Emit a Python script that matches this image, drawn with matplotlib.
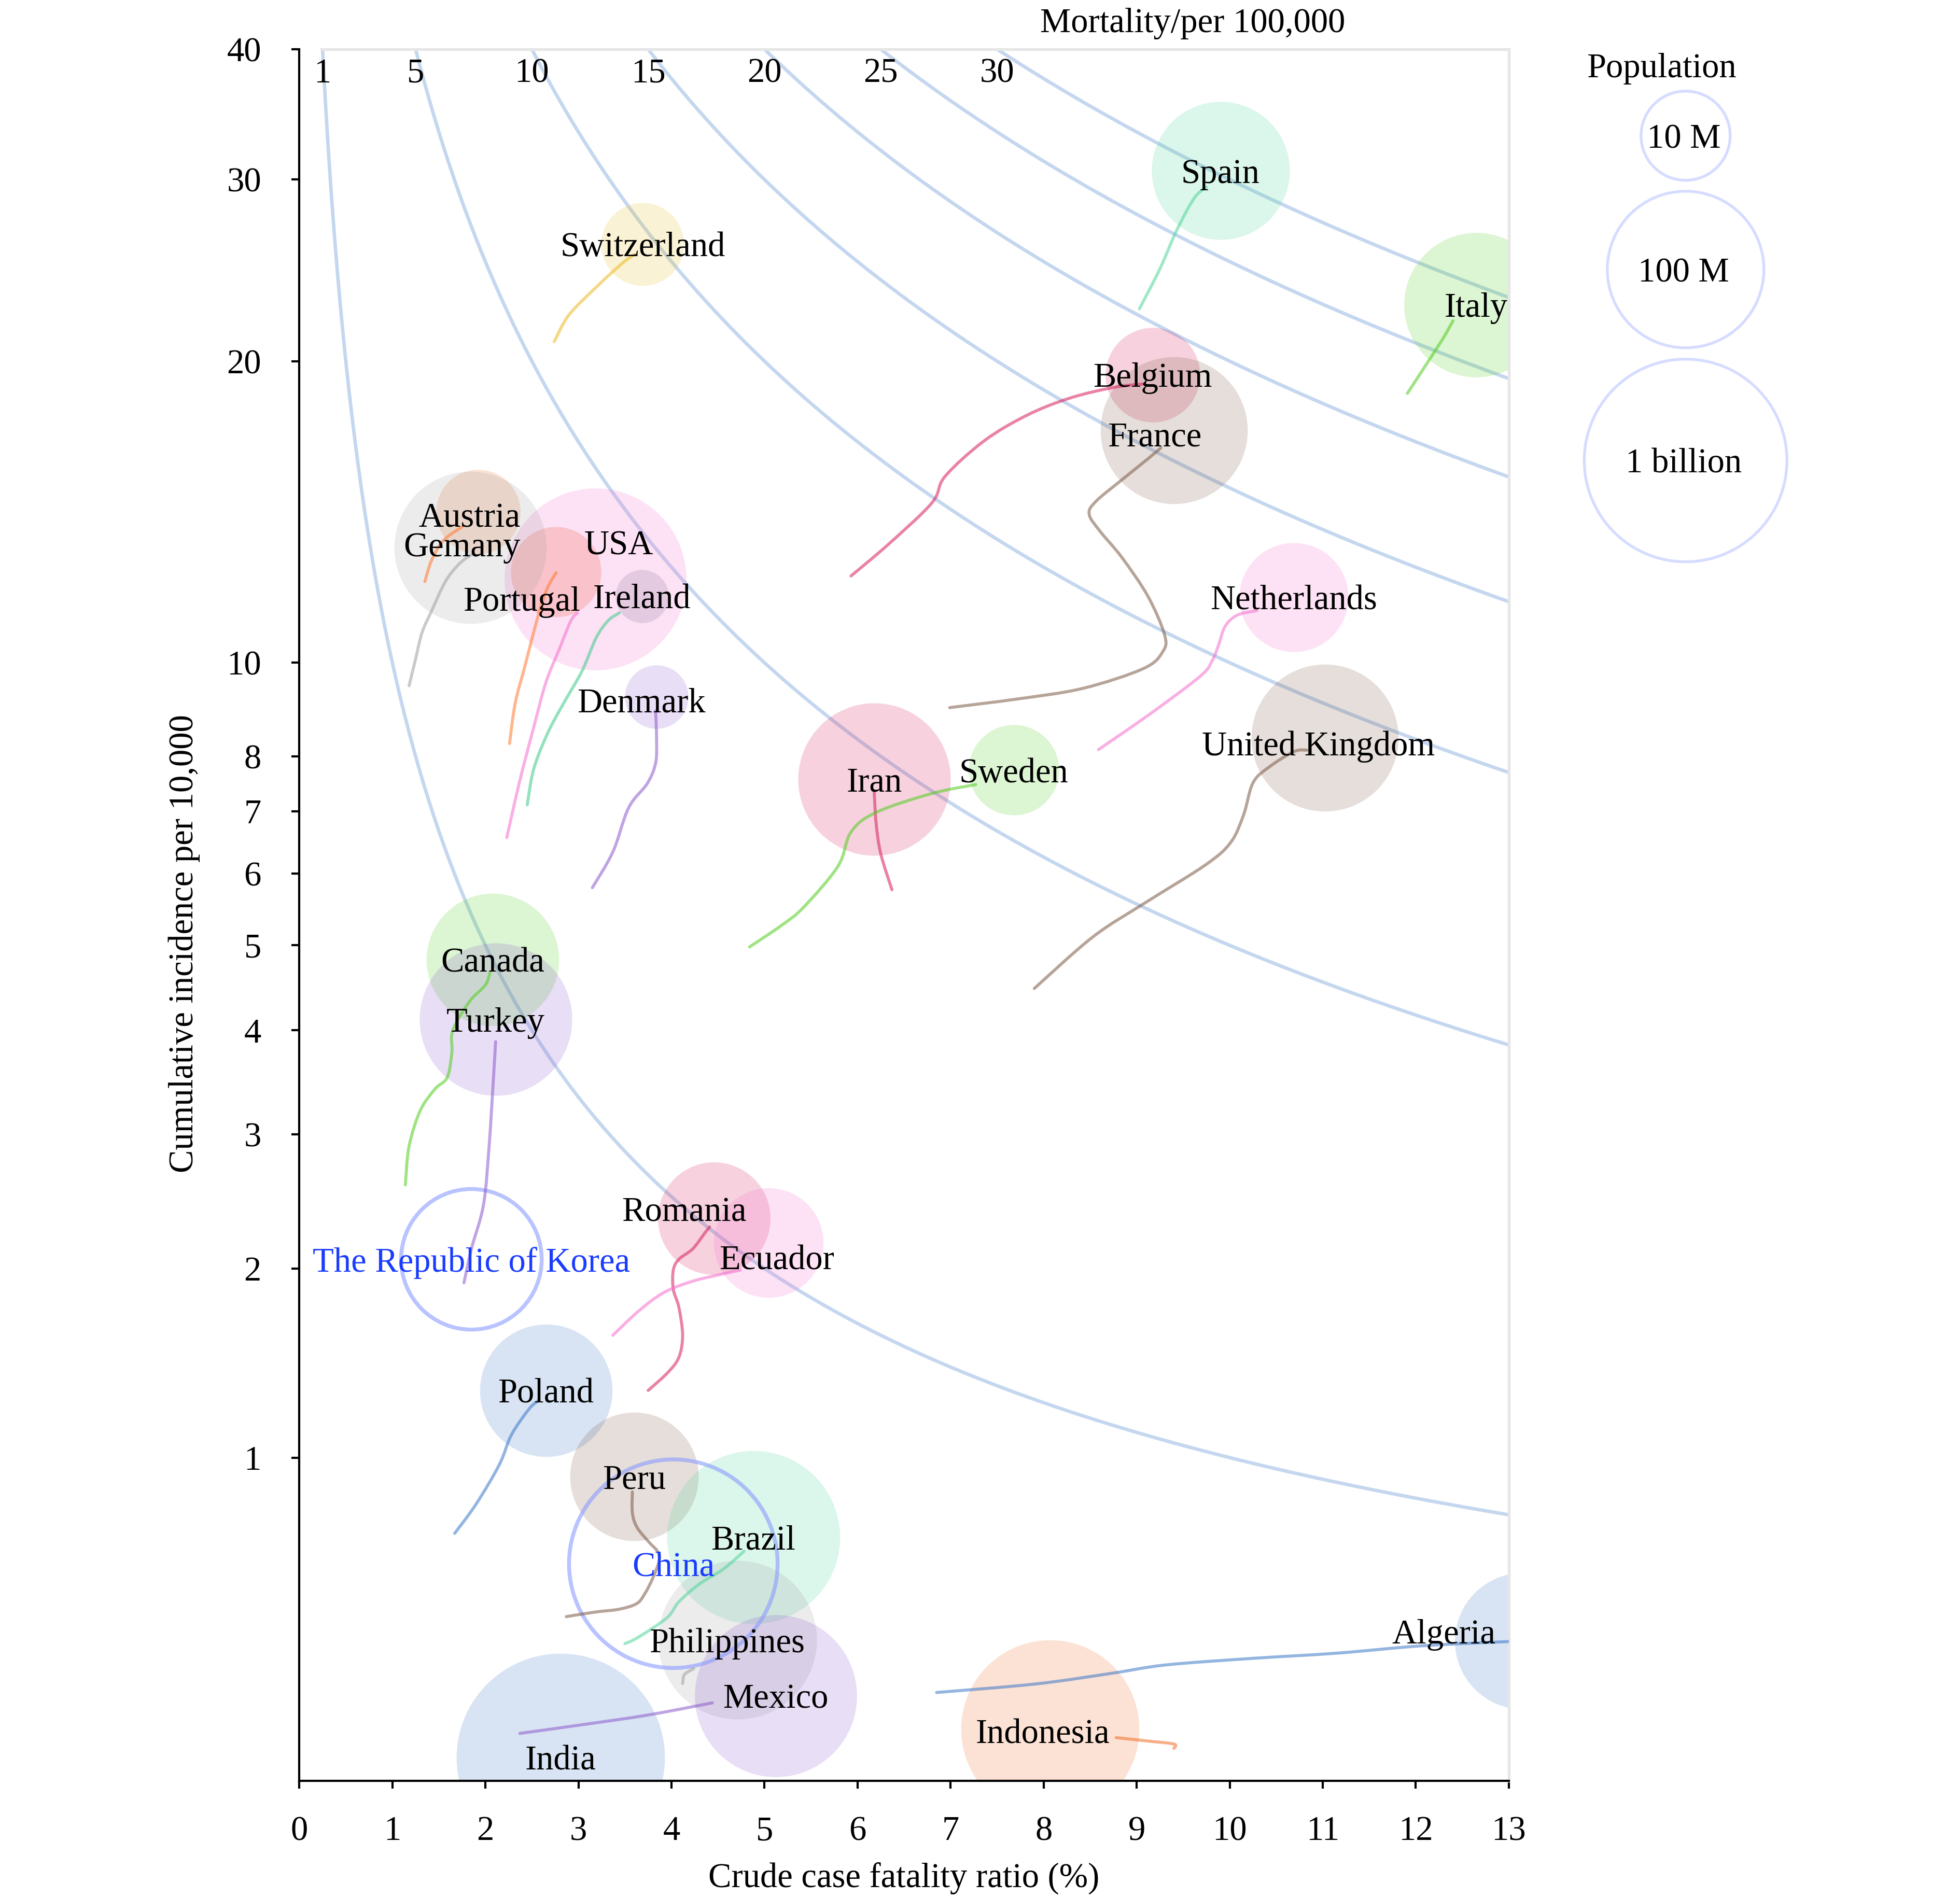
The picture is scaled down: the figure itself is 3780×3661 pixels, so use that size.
import matplotlib.pyplot as plt
import matplotlib.colors as mcolors
from matplotlib.path import Path
from matplotlib.patches import PathPatch
import numpy as np

plt.rcParams['font.family'] = ['Liberation Serif', 'DejaVu Serif']
plt.rcParams['font.size'] = 16

# Current position of each country (bubble)
countries = ["Spain", "Switzerland", "Italy", "Belgium", "France", "Netherlands",
             "United Kingdom", "Iran", "Sweden", "Denmark", "Ireland", "USA",
             "Portugal", "Austria", "Gemany", "Canada", "Turkey",
             "The Republic of Korea", "Romania", "Ecuador", "Poland", "Peru",
             "China", "Brazil", "Philippines", "Mexico", "India", "Indonesia",
             "Algeria"]
population_m = [46.9, 8.6, 60.4, 11.5, 67.0, 17.3, 66.8, 84.0, 10.3, 5.8, 4.9, 330.0,
                10.3, 8.9, 83.0, 38.0, 84.0, 51.7, 19.3, 17.6, 38.0, 32.9,
                1400.0, 212.0, 110.0, 128.0, 1380.0, 273.0, 44.0]
cfr_now = [9.90, 3.69, 12.65, 9.17, 9.40, 10.69, 11.02, 6.18, 7.68, 3.84, 3.68, 3.18,
           2.76, 1.92, 1.84, 2.08, 2.11, 1.85, 4.46, 5.04, 2.65, 3.60,
           4.02, 4.88, 4.71, 5.12, 2.81, 8.07, 13.15]
incidence_now = [30.6, 26.0, 22.7, 19.4, 17.1, 11.66, 8.37, 7.57, 7.74, 9.22, 11.68, 12.16,
                 12.37, 14.2, 13.09, 4.82, 4.12, 2.06, 2.34, 2.17, 1.31, 0.92,
                 0.593, 0.687, 0.353, 0.20, 0.051, 0.118, 0.35]

# Trajectories (crude CFR %, incidence per 10,000)
spain_x = [9.03, 9.25, 9.43, 9.62, 9.75]
spain_y = [22.5, 24.6, 26.8, 28.8, 29.5]
switzerland_x = [2.74, 2.90, 3.21, 3.47, 3.60]
switzerland_y = [20.9, 22.2, 23.7, 24.9, 25.4]
italy_x = [11.91, 12.12, 12.30, 12.40]
italy_y = [18.6, 19.9, 21.1, 21.9]
belgium_x = [5.93, 6.34, 6.80, 6.94, 7.36, 7.82, 8.28, 8.75, 9.07]
belgium_y = [12.25, 13.2, 14.5, 15.4, 16.7, 17.7, 18.4, 18.85, 19.0]
france_x = [6.99, 7.73, 8.42, 9.07, 9.28, 9.30, 9.12, 8.84, 8.61, 8.49, 8.56, 8.84, 9.12, 9.26]
france_y = [8.99, 9.18, 9.41, 9.86, 10.26, 10.68, 11.69, 12.79, 13.57, 14.12, 14.54, 15.28, 16.03, 16.44]
netherlands_x = [8.59, 9.14, 9.68, 9.81, 9.88, 9.95, 10.08, 10.29]
netherlands_y = [8.13, 8.85, 9.68, 10.04, 10.42, 10.89, 11.18, 11.30]
uk_x = [7.90, 8.53, 9.10, 9.74, 10.01, 10.15, 10.25, 10.42, 10.69, 10.83]
uk_y = [4.47, 5.11, 5.58, 6.13, 6.48, 6.94, 7.50, 7.79, 8.09, 8.12]
iran_x = [6.37, 6.25, 6.20, 6.18]
iran_y = [5.76, 6.30, 6.79, 7.32]
sweden_x = [4.84, 5.18, 5.42, 5.79, 5.93, 6.20, 6.80, 7.27]
sweden_y = [4.98, 5.26, 5.51, 6.11, 6.65, 6.98, 7.31, 7.47]
denmark_x = [3.15, 3.37, 3.54, 3.74, 3.83, 3.84, 3.83]
denmark_y = [5.79, 6.33, 7.06, 7.49, 7.87, 8.33, 8.92]
ireland_x = [2.45, 2.52, 2.67, 2.84, 3.04, 3.19, 3.32, 3.44]
ireland_y = [7.11, 7.76, 8.46, 9.08, 9.81, 10.6, 11.04, 11.24]
usa_x = [2.23, 2.37, 2.52, 2.65, 2.79, 2.92, 2.99]
usa_y = [6.56, 7.54, 8.58, 9.54, 10.30, 11.04, 11.24]
portugal_x = [2.26, 2.32, 2.42, 2.52, 2.59, 2.67, 2.76]
portugal_y = [8.25, 9.08, 9.88, 10.75, 11.36, 11.93, 12.34]
austria_x = [1.35, 1.42, 1.55, 1.75]
austria_y = [12.09, 12.69, 13.3, 13.72]
germany_x = [1.18, 1.25, 1.32, 1.42, 1.57, 1.72, 1.85]
germany_y = [9.47, 10.09, 10.74, 11.28, 12.09, 12.6, 12.87]
canada_x = [1.14, 1.18, 1.30, 1.46, 1.59, 1.64, 1.65, 1.83, 2.00, 2.05]
canada_y = [2.59, 2.90, 3.21, 3.41, 3.52, 3.77, 4.00, 4.32, 4.51, 4.66]
turkey_x = [1.77, 1.85, 1.98, 2.04, 2.08, 2.11]
turkey_y = [1.91, 2.13, 2.44, 2.90, 3.41, 3.88]
romania_x = [3.75, 3.96, 4.08, 4.12, 4.08, 4.02, 4.02, 4.08, 4.23, 4.35, 4.41]
romania_y = [1.31, 1.40, 1.48, 1.60, 1.76, 1.87, 1.99, 2.06, 2.13, 2.23, 2.28]
ecuador_x = [3.37, 3.65, 3.92, 4.23, 4.55, 4.74]
ecuador_y = [1.60, 1.74, 1.85, 1.92, 1.965, 1.99]
poland_x = [1.67, 1.90, 2.15, 2.28, 2.47, 2.57]
poland_y = [0.70, 0.81, 0.97, 1.10, 1.22, 1.26]
peru_x = [2.87, 3.18, 3.44, 3.63, 3.72, 3.80, 3.87, 3.85, 3.76, 3.63, 3.58, 3.58]
peru_y = [0.422, 0.436, 0.445, 0.463, 0.497, 0.545, 0.605, 0.636, 0.668, 0.722, 0.777, 0.858]
brazil_x = [3.50, 3.64, 3.95, 4.08, 4.30, 4.56, 4.78]
brazil_y = [0.342, 0.36, 0.418, 0.468, 0.525, 0.575, 0.636]
philippines_x = [4.12, 4.14, 4.24]
philippines_y = [0.232, 0.256, 0.272]
mexico_x = [2.37, 3.11, 3.76, 4.44]
mexico_y = [0.107, 0.130, 0.152, 0.182]
indonesia_x = [9.40, 9.40, 9.12, 8.78]
indonesia_y = [0.072, 0.082, 0.089, 0.097]
algeria_x = [6.85, 7.92, 8.75, 9.31, 10.23, 11.16, 12.08, 13.16]
algeria_y = [0.2085, 0.231, 0.26, 0.282, 0.30, 0.315, 0.336, 0.35]

mortality_levels = [1, 5, 10, 15, 20, 25, 30]
legend_pops_m = [10, 100, 1000]
legend_labels = ["10 M", "100 M", "1 billion"]
x_ticks = list(range(0, 14))
y_ticks = [1, 2, 3, 4, 5, 6, 7, 8, 10, 20, 30, 40]

trails = {
    "Spain": (spain_x, spain_y), "Switzerland": (switzerland_x, switzerland_y),
    "Italy": (italy_x, italy_y), "Belgium": (belgium_x, belgium_y),
    "France": (france_x, france_y), "Netherlands": (netherlands_x, netherlands_y),
    "United Kingdom": (uk_x, uk_y), "Iran": (iran_x, iran_y),
    "Sweden": (sweden_x, sweden_y), "Denmark": (denmark_x, denmark_y),
    "Ireland": (ireland_x, ireland_y), "USA": (usa_x, usa_y),
    "Portugal": (portugal_x, portugal_y), "Austria": (austria_x, austria_y),
    "Gemany": (germany_x, germany_y), "Canada": (canada_x, canada_y),
    "Turkey": (turkey_x, turkey_y), "Romania": (romania_x, romania_y),
    "Ecuador": (ecuador_x, ecuador_y), "Poland": (poland_x, poland_y),
    "Peru": (peru_x, peru_y), "Brazil": (brazil_x, brazil_y),
    "Philippines": (philippines_x, philippines_y), "Mexico": (mexico_x, mexico_y),
    "Indonesia": (indonesia_x, indonesia_y), "Algeria": (algeria_x, algeria_y),
}

# colours
GREEN, TEAL, YELLOW, RED = "#50cd1e", "#4fd69c", "#e6c229", "#d81e5e"
BROWN, PINK, PURPLE, GREY = "#7d5a46", "#f56ecd", "#8c5acd", "#a0a0a0"
ORANGE, BLUE = "#f06e28", "#3c78c8"
bubble_color = {
    "Spain": TEAL, "Switzerland": YELLOW, "Italy": GREEN, "Belgium": RED,
    "France": BROWN, "Netherlands": PINK, "United Kingdom": BROWN, "Iran": RED,
    "Sweden": GREEN, "Denmark": PURPLE, "Ireland": "#696982", "USA": PINK,
    "Portugal": "#ee4422", "Austria": ORANGE, "Gemany": GREY, "Canada": GREEN,
    "Turkey": PURPLE, "Romania": RED, "Ecuador": PINK, "Poland": BLUE,
    "Peru": BROWN, "Brazil": TEAL, "Philippines": GREY, "Mexico": PURPLE,
    "India": BLUE, "Indonesia": ORANGE, "Algeria": BLUE,
}
line_color = dict(bubble_color, Ireland="#3cc98a", Portugal="#ff7a30",
                  Austria="#ff7a30", Switzerland="#ecb820")
outlined = ["The Republic of Korea", "China"]
label_offset = {"USA": (11, 17), "Portugal": (-16, -12.5), "Romania": (-14, 4.5),
                "France": (-9, -1.5), "Denmark": (-7, -1.3), "Ecuador": (4, -6.6),
                "Philippines": (-5, 0), "United Kingdom": (-3, -2.6),
                "Austria": (-4, -1.4), "Gemany": (-4, 1.4), "Indonesia": (-3.5, -1)}


def fwd(v):
    return np.log10(1 + np.clip(v, -0.999, None))


def inv(v):
    return 10 ** v - 1


def bubble_size(pop_m):
    # radius grows with log(population); value in reference pixels -> points
    r_px = np.sqrt(2650 * (np.log10(np.asarray(pop_m) * 1e6) - 6.52))
    r_pt = r_px * (3780 / 1568) * 72 / 300
    return (2 * r_pt) ** 2


def smooth_path(xs, ys):
    # Catmull-Rom through the points, built in the axis' scaled space
    pts = np.column_stack([xs, fwd(np.asarray(ys, dtype=float))])
    n = len(pts)
    verts, codes = [pts[0]], [Path.MOVETO]
    for i in range(n - 1):
        p0, p1 = pts[max(i - 1, 0)], pts[i]
        p2, p3 = pts[i + 1], pts[min(i + 2, n - 1)]
        verts += [p1 + (p2 - p0) / 6, p2 - (p3 - p1) / 6, p2]
        codes += [Path.CURVE4] * 3
    return Path(verts, codes)


fig = plt.figure(figsize=(12.6, 3661 / 300), dpi=300)
ax = fig.add_axes([0.1527, 0.06175, 0.6171, 0.91231])
ax.set_yscale('function', functions=(fwd, inv))
ax.set_xlim(0, 13)
ax.set_ylim(0, 40)

# iso-mortality curves: mortality per 100,000 = CFR * incidence / 10
for m in mortality_levels:
    xs = np.linspace(10 * m / 40, 13, 400)
    ax.plot(xs, 10 * m / xs, color="#c4d7ef", lw=1.6, zorder=1)
    ax.annotate(str(m), xy=(10 * m / 40, 40), xytext=(0, -4), textcoords="offset points",
                ha="center", va="top", fontsize=16, zorder=6)

sizes = bubble_size(population_m)
for name, x, y, s in zip(countries, cfr_now, incidence_now, sizes):
    if name in outlined:
        ax.scatter([x], [y], s=s, facecolors="none", edgecolors="#8a9bff",
                   linewidths=1.8, alpha=0.6, zorder=3)
    else:
        ax.scatter([x], [y], s=s, color=mcolors.to_rgba(bubble_color[name], 0.2),
                   linewidths=0, zorder=2)

scaled = ax.transLimits + ax.transAxes
for name, (tx, ty) in trails.items():
    patch = PathPatch(smooth_path(tx, ty), facecolor="none", edgecolor=line_color[name],
                      alpha=0.55, lw=1.4, capstyle="round", joinstyle="round",
                      transform=scaled, zorder=4)
    ax.add_patch(patch)

for name, x, y in zip(countries, cfr_now, incidence_now):
    color = "#1a3cff" if name in outlined else "black"
    dx, dy = label_offset.get(name, (0, 0))
    ha = "center"
    if x > 13:
        x, ha, dx, dy = 13, "right", -6, 4.5
    ax.annotate(name, xy=(x, y), xytext=(dx, dy), textcoords="offset points",
                ha=ha, va="center_baseline", fontsize=16, color=color, zorder=7)

ax.set_xticks(x_ticks)
ax.set_yticks(y_ticks)
ax.set_yticklabels([str(t) for t in y_ticks])
ax.minorticks_off()
ax.tick_params(axis="both", direction="out", length=3.6, width=1.0, labelsize=16)
ax.tick_params(axis="x", pad=12.5)
ax.tick_params(axis="y", pad=14)
for side in ["left", "bottom"]:
    ax.spines[side].set_color("black")
    ax.spines[side].set_linewidth(1.0)
for side in ["top", "right"]:
    ax.spines[side].set_color("#e6e6e6")
    ax.spines[side].set_linewidth(1.3)
ax.spines["top"].set_bounds(0.24, 13)

ax.set_xlabel("Crude case fatality ratio (%)", fontsize=16)
ax.set_ylabel("Cumulative incidence per 10,000", fontsize=16)
ax.xaxis.set_label_coords(0.5, -0.047)
ax.yaxis.set_label_coords(-0.082, 0.4836)

fig.text(0.6084, 0.9895, "Mortality/per 100,000", ha="center", va="center_baseline", fontsize=16)

# population legend
lax = fig.add_axes([0, 0, 1, 1], facecolor="none")
lax.set_xlim(0, 1)
lax.set_ylim(0, 1)
lax.axis("off")
lax.text(0.8476, 0.9658, "Population", ha="center", va="center_baseline", fontsize=16)
legend_y = [0.9285, 0.858, 0.7574]
lax.scatter([0.86] * 3, legend_y, s=bubble_size(legend_pops_m), facecolors="none",
            edgecolors="#d6dcff", linewidths=1.3, clip_on=False)
for lbl, ly in zip(legend_labels, legend_y):
    lax.text(0.859, ly, lbl, ha="center", va="center_baseline", fontsize=16)

fig.savefig("out.png", dpi=300, facecolor="white")
